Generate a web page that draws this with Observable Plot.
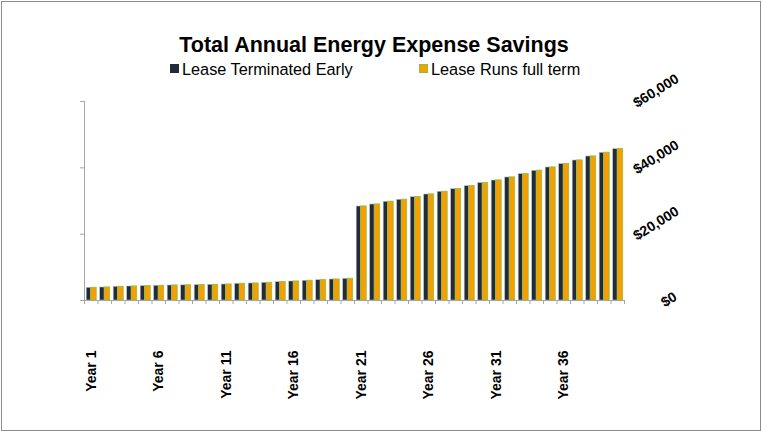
<!DOCTYPE html>
<html><head><meta charset="utf-8">
<script src="https://cdn.jsdelivr.net/npm/d3@7"></script>
<script src="https://cdn.jsdelivr.net/npm/@observablehq/plot@0.6"></script>
<style>
body{margin:0;background:#fff;font-family:"Liberation Sans",Arial,sans-serif;}
#wrap{position:relative;width:762px;height:431px;overflow:hidden;background:#fff;}
#border{position:absolute;left:1px;top:1px;width:760px;height:430px;border:1px solid #8c8c8c;box-sizing:border-box;pointer-events:none;z-index:3}
#head{position:relative;height:80px;}
#title{position:absolute;left:0;width:748px;top:32.5px;text-align:center;font-size:21.5px;font-weight:bold;line-height:24px;color:#000}
.leg{position:absolute;top:60px;font-size:16.3px;line-height:18px;color:#000;white-space:nowrap;padding-left:12px}
.sw{position:absolute;left:0;top:4px;width:9px;height:9px;box-sizing:border-box}
#chart svg{display:block;overflow:visible}
</style></head>
<body>
<div id="wrap">
<div id="border"></div>
<div id="head">
<div id="title">Total Annual Energy Expense Savings</div>
<div class="leg" style="left:170px"><span class="sw" style="background:#232b38"></span>Lease Terminated Early</div>
<div class="leg" style="left:419px"><span class="sw" style="background:#f99d00;border:1px solid #86c440"></span>Lease Runs full term</div>
</div>
<div id="chart"></div>
</div>
<script>
const categories = ["Year 1","Year 2","Year 3","Year 4","Year 5","Year 6","Year 7","Year 8","Year 9","Year 10",
  "Year 11","Year 12","Year 13","Year 14","Year 15","Year 16","Year 17","Year 18","Year 19","Year 20",
  "Year 21","Year 22","Year 23","Year 24","Year 25","Year 26","Year 27","Year 28","Year 29","Year 30",
  "Year 31","Year 32","Year 33","Year 34","Year 35","Year 36","Year 37","Year 38","Year 39","Year 40"];
const leaseTerminatedEarly = [3830,3920,4130,4220,4310,4430,4520,4570,4620,4730,
  4820,5030,5130,5330,5520,5730,5940,6120,6330,6540,
  28340,28940,29760,30360,31150,31960,32770,33560,34460,35370,
  36180,37090,38080,39100,40100,41100,42210,43420,44530,45620];
const leaseRunsFullTerm = [3850,3950,4150,4250,4350,4450,4550,4600,4650,4750,
  4850,5050,5150,5350,5550,5750,5960,6150,6350,6570,
  28380,28980,29800,30400,31200,32000,32800,33600,34500,35400,
  36220,37130,38120,39150,40150,41150,42250,43450,44570,45680];
const xTickLabels = ["Year 1","Year 6","Year 11","Year 16","Year 21","Year 26","Year 31","Year 36"];
const yTicks = [0,20000,40000,60000];
const yTickLabels = ["$0","$20,000","$40,000","$60,000"];

const rows = categories.map((c,i)=>({year:c, early:leaseTerminatedEarly[i], full:leaseRunsFullTerm[i]}));
const gray = "#a6a6a6";
const half = 6.75;
const fmt = d => yTickLabels[yTicks.indexOf(d)];

const chart = Plot.plot({
  width: 762, height: 351,
  marginLeft: 84, marginRight: 138, marginTop: 21, marginBottom: 131,
  style: {fontFamily: '"Liberation Sans", Arial, sans-serif', overflow: "visible", background: "transparent"},
  x: {type: "band", domain: categories, padding: 0, round: false, axis: null},
  y: {domain: [0, 60000], axis: null},
  marks: [
    Plot.barY(rows, {x: "year", y: "early", fill: "#232b38", stroke: "#b8bcc2", strokeWidth: 0.6, insetLeft: 2.2, insetRight: 6.8}),
    Plot.barY(rows, {x: "year", y: "full", fill: "#f99d00", stroke: "#86c440", strokeWidth: 0.8, insetLeft: 6.7, insetRight: 1.3}),
    Plot.ruleY([0], {stroke: gray}),
    Plot.frame({anchor: "left", stroke: gray}),
    Plot.axisY(yTicks, {anchor: "left", tickSize: 4, tickFormat: () => "", stroke: gray, label: null}),
    Plot.axisX(categories, {tickSize: 4, tickPadding: 0, tickFormat: () => "", dx: -half, stroke: gray, label: null}),
    Plot.axisX([categories[categories.length-1]], {tickSize: 4, tickPadding: 0, tickFormat: () => "", dx: half, stroke: gray, label: null}),
    Plot.axisX(xTickLabels, {tickSize: 0, tickPadding: 0, tickRotate: -90, textAnchor: "end", dy: 50, fontSize: 14, fontWeight: "bold", fill: "#000", tickFormat: d => d, label: null}),
    Plot.axisY(yTicks.slice(1), {anchor: "right", tickSize: 0, tickPadding: 0, tickRotate: -32, textAnchor: "end", dx: 53, dy: -24, fontSize: 14, fontWeight: "bold", fill: "#000", tickFormat: fmt, label: null}),
    Plot.axisY(yTicks.slice(0,1), {anchor: "right", tickSize: 0, tickPadding: 0, tickRotate: -32, textAnchor: "end", dx: 51, dy: -5, fontSize: 14, fontWeight: "bold", fill: "#000", tickFormat: fmt, label: null})
  ]
});
document.getElementById("chart").appendChild(chart);
</script>
</body></html>
